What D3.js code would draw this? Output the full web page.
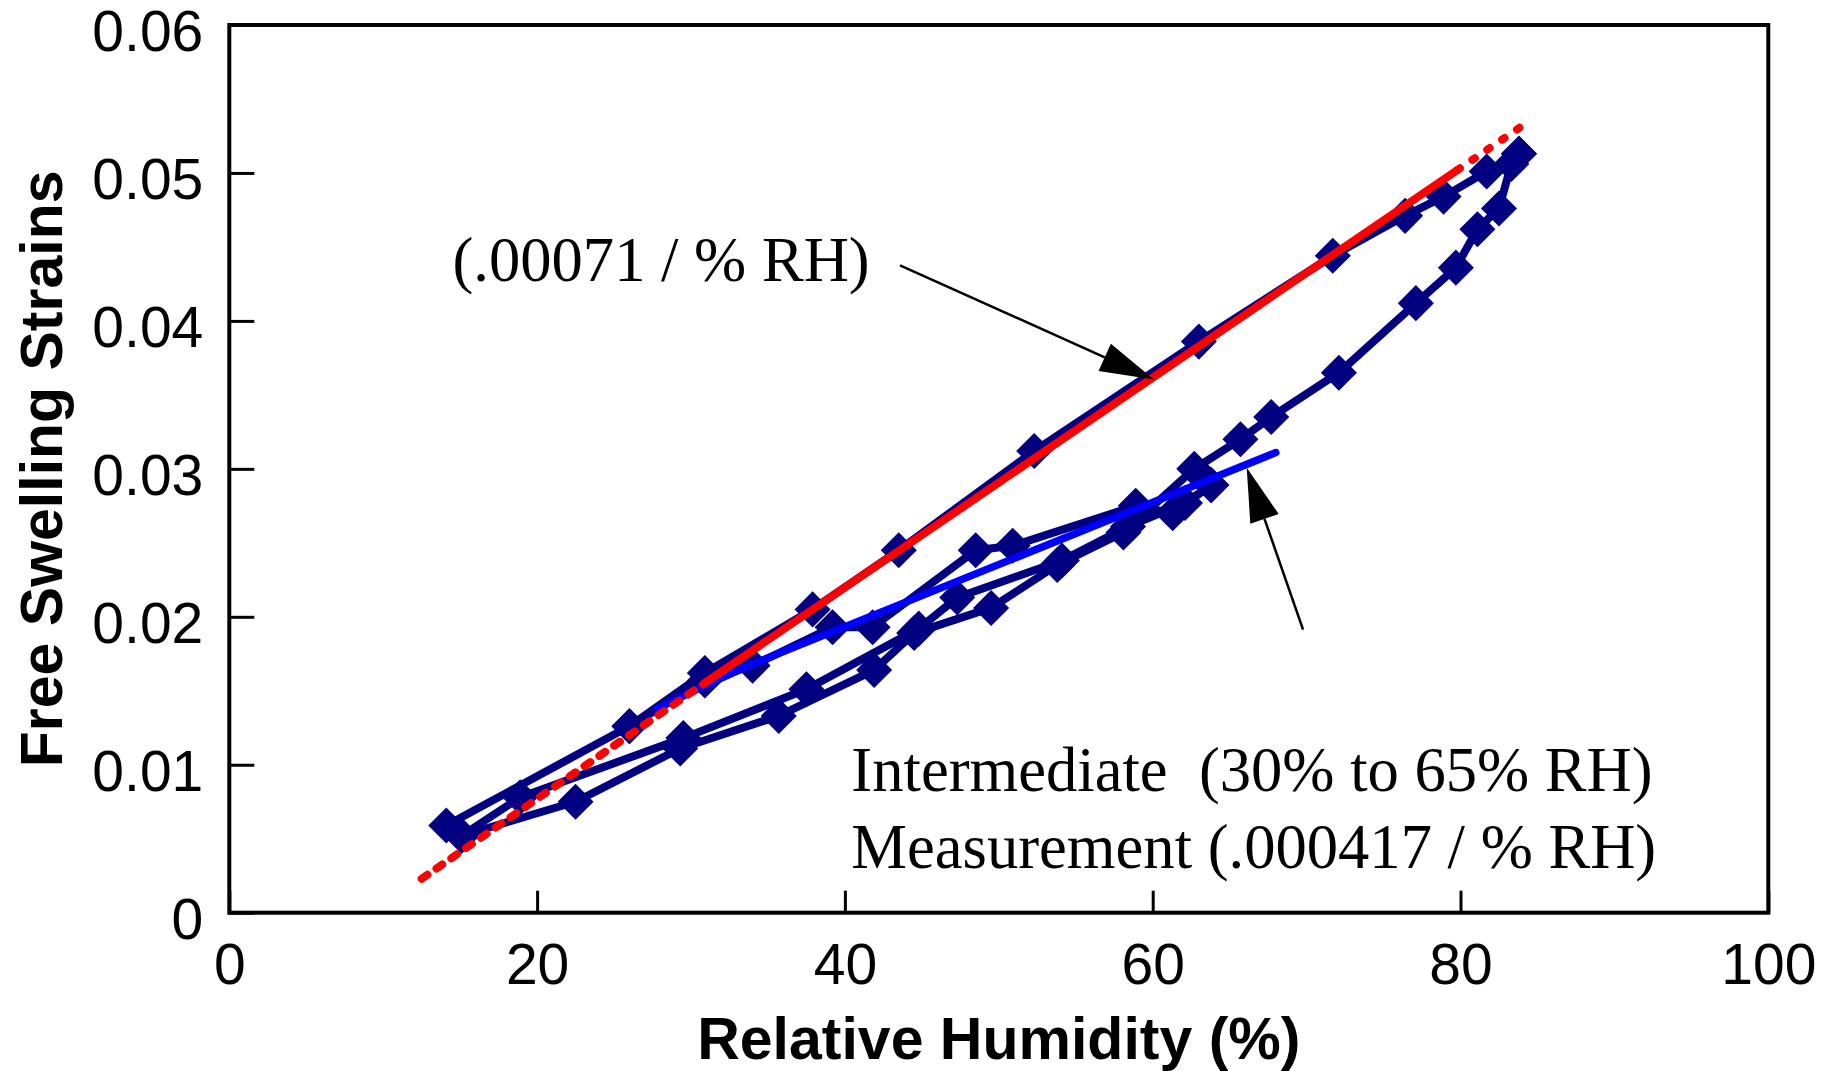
<!DOCTYPE html>
<html>
<head>
<meta charset="utf-8">
<script src="https://cdn.jsdelivr.net/npm/d3@7"></script>
<style>
  body { margin: 0; background: #fff; }
  svg { display: block; }
</style>
</head>
<body>
<div id="chart"></div>
<script>
// measured loops, [RH %, strain]
var wetMain = [[14.1, 0.0059], [26.0, 0.0126], [30.9, 0.0162], [37.9, 0.0205], [43.5, 0.0245],
               [52.3, 0.0312], [63.0, 0.0386], [71.7, 0.0444], [76.4, 0.0471], [78.9, 0.0484],
               [81.7, 0.0501], [83.8, 0.0513]];
var dryMain = [[83.8, 0.0513], [83.3, 0.0506], [82.5, 0.0476], [81.1, 0.0462], [79.7, 0.0436],
               [77.1, 0.0412], [72.1, 0.0365], [67.7, 0.0335], [65.7, 0.0320], [62.7, 0.0300],
               [58.1, 0.0257], [53.8, 0.0235], [49.5, 0.0206], [44.5, 0.0189], [41.9, 0.0164],
               [35.7, 0.0133], [29.3, 0.0111], [22.5, 0.0075], [15.1, 0.0052]];
var wetInter = [[15.1, 0.0052], [18.9, 0.0078], [29.5, 0.0118], [37.5, 0.0151], [44.8, 0.0192],
                [47.3, 0.0213], [54.1, 0.0238], [58.4, 0.0261], [62.1, 0.0277], [63.8, 0.0289]];
var dryInter = [[63.8, 0.0289], [61.3, 0.0270], [58.9, 0.0275], [50.9, 0.0248], [48.5, 0.0245],
                [41.8, 0.0193], [39.2, 0.0193], [34.0, 0.0167], [30.9, 0.0157], [26.0, 0.0126]];

// fitted lines
var fitInter = [[27.8, 0.0138], [31.0, 0.0154], [34.0, 0.0168], [68.0, 0.0311]];
var fitMainRH = [12.5, 31.0, 79.8, 83.9];
var fitMainStrain = [0.0023, 0.0156, 0.0502, 0.0531];

var xTicks = [0, 20, 40, 60, 80, 100];
var yTicks = [0, 0.01, 0.02, 0.03, 0.04, 0.05, 0.06];

var w = 1829, h = 1071;
var plotL = 229.3, plotR = 1768.3, plotT = 25, plotB = 912.7;

var svg = d3.select("#chart").append("svg")
    .attr("width", w)
    .attr("height", h);

var x = d3.scaleLinear().domain([0, 100]).range([plotL, plotR]);
var y = d3.scaleLinear().domain([0, 0.06]).range([plotB, plotT]);

var navy = "#000080";

// axes
var xAxis = svg.append("g")
    .attr("transform", "translate(0," + plotB + ")")
    .call(d3.axisBottom(x).tickValues(xTicks).tickSizeInner(-22).tickSizeOuter(0));
xAxis.select(".domain").remove();
xAxis.selectAll("line").attr("stroke", "#000").attr("stroke-width", 3);
xAxis.selectAll("text")
    .attr("y", 71.5).attr("dy", 0)
    .attr("font-family", "'Liberation Sans', Arial, sans-serif")
    .attr("font-size", 57).attr("fill", "#000");

var yAxis = svg.append("g")
    .attr("transform", "translate(" + plotL + ",0)")
    .call(d3.axisLeft(y).tickValues(yTicks).tickSizeInner(-25).tickSizeOuter(0)
        .tickFormat(function(d) { return d === 0 ? "0" : d3.format(".2f")(d); }));
yAxis.select(".domain").remove();
yAxis.selectAll("line").attr("stroke", "#000").attr("stroke-width", 3);
yAxis.selectAll("text")
    .attr("x", -26).attr("y", 25.5).attr("dy", 0)
    .attr("font-family", "'Liberation Sans', Arial, sans-serif")
    .attr("font-size", 57).attr("fill", "#000");

svg.append("rect")
    .attr("x", plotL).attr("y", plotT)
    .attr("width", plotR - plotL).attr("height", plotB - plotT)
    .attr("fill", "none").attr("stroke", "#000").attr("stroke-width", 4);

// axis titles
svg.append("text")
    .attr("x", (plotL + plotR) / 2).attr("y", 1059)
    .attr("text-anchor", "middle")
    .attr("font-family", "'Liberation Sans', Arial, sans-serif")
    .attr("font-weight", "bold").attr("font-size", 59)
    .text("Relative Humidity (%)");

svg.append("text")
    .attr("transform", "translate(62," + (plotT + plotB) / 2 + ") rotate(-90)")
    .attr("text-anchor", "middle")
    .attr("font-family", "'Liberation Sans', Arial, sans-serif")
    .attr("font-weight", "bold").attr("font-size", 59)
    .text("Free Swelling Strains");

// data loops
var line = d3.line()
    .x(function(d) { return x(d[0]); })
    .y(function(d) { return y(d[1]); });

var loops = [wetMain, dryMain, wetInter, dryInter];
svg.selectAll("path.loop")
    .data(loops)
    .enter()
    .append("path")
    .attr("class", "loop")
    .attr("d", line)
    .attr("fill", "none")
    .attr("stroke", navy)
    .attr("stroke-width", 8)
    .attr("stroke-linejoin", "round");

var diamond = d3.symbol().type(d3.symbolSquare).size(650);
var allPts = [].concat(wetMain, dryMain, wetInter, dryInter);
svg.selectAll("path.pt")
    .data(allPts)
    .enter()
    .append("path")
    .attr("class", "pt")
    .attr("d", diamond)
    .attr("transform", function(d) {
        return "translate(" + x(d[0]) + "," + y(d[1]) + ") rotate(45)";
    })
    .attr("fill", navy);

// intermediate fit (blue)
svg.append("path")
    .attr("d", line(fitInter))
    .attr("fill", "none")
    .attr("stroke", "#0000ff")
    .attr("stroke-width", 7.5)
    .attr("stroke-linecap", "round")
    .attr("stroke-linejoin", "round");

// overall fit (red): dashed start, solid middle, dotted end
var fitMain = fitMainRH.map(function(v, i) { return [v, fitMainStrain[i]]; });
var redParts = [
    { pts: [fitMain[0], fitMain[1]], dash: "7,11" },
    { pts: [fitMain[1], fitMain[2]], dash: null },
    { pts: [fitMain[2], fitMain[3]], dash: "3,15" }
];
svg.selectAll("path.red")
    .data(redParts)
    .enter()
    .append("path")
    .attr("class", "red")
    .attr("d", function(d) { return line(d.pts); })
    .attr("fill", "none")
    .attr("stroke", "#ff0000")
    .attr("stroke-width", 8)
    .attr("stroke-linecap", "round")
    .attr("stroke-dasharray", function(d) { return d.dash; });

// annotations
var serif = "'Liberation Serif', 'Times New Roman', serif";
var notes = [
    { rh: 14.5, s: 0.04267, t: "(.00071 / % RH)" },
    { rh: 40.42, s: 0.00825, t: "Intermediate  (30% to 65% RH)" },
    { rh: 40.42, s: 0.00305, t: "Measurement (.000417 / % RH)" }
];
svg.selectAll("text.note")
    .data(notes)
    .enter()
    .append("text")
    .attr("class", "note")
    .attr("x", function(d) { return x(d.rh); })
    .attr("y", function(d) { return y(d.s); })
    .attr("font-family", serif)
    .attr("font-size", 62.6)
    .style("white-space", "pre")
    .text(function(d) { return d.t; });

var arrows = [
    { from: [43.58, 0.04376], to: [60.08, 0.03604] },
    { from: [69.77, 0.01913], to: [66.11, 0.03007] }
];
arrows.forEach(function(a) {
    var x0 = x(a.from[0]), y0 = y(a.from[1]);
    var x1 = x(a.to[0]), y1 = y(a.to[1]);
    var ang = Math.atan2(y1 - y0, x1 - x0);
    var len = 54, hw = 15;
    var bx = x1 - len * Math.cos(ang), by = y1 - len * Math.sin(ang);
    svg.append("line")
        .attr("x1", x0).attr("y1", y0)
        .attr("x2", bx).attr("y2", by)
        .attr("stroke", "#000").attr("stroke-width", 2.5);
    var px = -Math.sin(ang) * hw, py = Math.cos(ang) * hw;
    svg.append("path")
        .attr("d", "M" + x1 + "," + y1 + "L" + (bx + px) + "," + (by + py) + "L" + (bx - px) + "," + (by - py) + "Z")
        .attr("fill", "#000");
});
</script>
</body>
</html>
